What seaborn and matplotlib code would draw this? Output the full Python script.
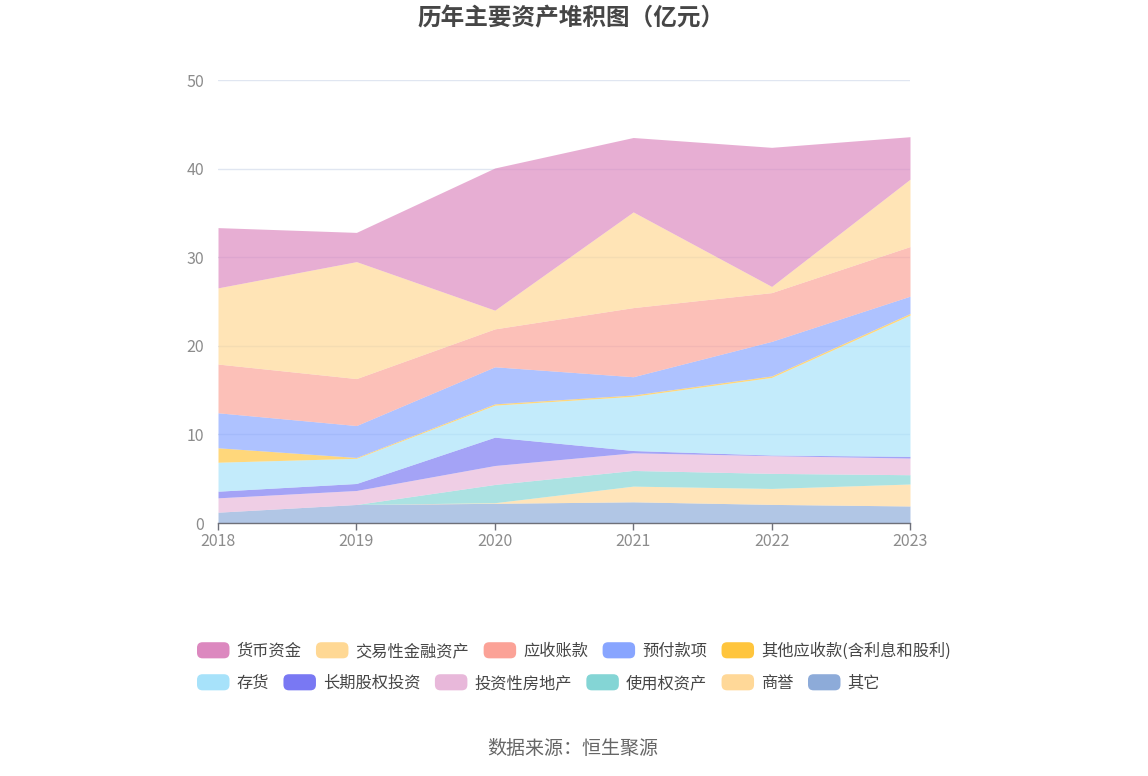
import numpy as np
import pandas as pd
import matplotlib
matplotlib.use("Agg")
import matplotlib.pyplot as plt
import seaborn as sns
from matplotlib.patches import Patch, FancyBboxPatch
from matplotlib.legend_handler import HandlerPatch

# 数据（亿元），从下往上堆叠
years = [2018, 2019, 2020, 2021, 2022, 2023]
qita = [1.22, 2.09, 2.22, 2.39, 2.10, 1.92]
shangyu = [0.00, 0.00, 0.07, 1.77, 1.80, 2.48]
shiyongquan = [0.00, 0.00, 2.06, 1.77, 1.70, 1.05]
touzifangdichan = [1.62, 1.58, 2.14, 1.99, 2.00, 1.88]
changqiguquan = [0.75, 0.79, 3.20, 0.26, 0.07, 0.19]
cunhuo = [3.27, 2.84, 3.61, 6.12, 8.76, 15.94]
qitayingshou = [1.63, 0.10, 0.15, 0.15, 0.17, 0.19]
yufu = [3.95, 3.60, 4.18, 2.06, 3.90, 1.95]
yingshou = [5.50, 5.30, 4.28, 7.80, 5.50, 5.60]
jiaoyixing = [8.60, 13.20, 2.11, 10.80, 0.70, 7.60]
huobi = [6.80, 3.30, 16.05, 8.40, 15.70, 4.80]

names = ["其它", "商誉", "使用权资产", "投资性房地产", "长期股权投资", "存货",
         "其他应收款(含利息和股利)", "预付款项", "应收账款", "交易性金融资产", "货币资金"]
series = [qita, shangyu, shiyongquan, touzifangdichan, changqiguquan, cunhuo,
          qitayingshou, yufu, yingshou, jiaoyixing, huobi]
colors = ["#8dabd9", "#ffd898", "#84d5d5", "#e8b8da", "#7978f3", "#a7e2fa",
          "#ffc53d", "#88a5ff", "#fba297", "#ffd894", "#dc88bf"]

df = pd.DataFrame(dict(zip(names, series)), index=years)

sns.set_theme(style="white")
plt.rcParams["font.family"] = ["Noto Sans CJK SC", "DejaVu Sans"]

fig = plt.figure(figsize=(11.48, 7.76), dpi=100)
ax = fig.add_axes([218 / 1148, 1 - 523 / 776, 692 / 1148, 443 / 776])

ax.stackplot(df.index, [df[n] for n in names], colors=colors, alpha=0.68,
             linewidth=0, zorder=2)

ax.set_xlim(2018, 2023)
ax.set_ylim(0, 50)
ax.set_xticks(years)
ax.set_yticks(range(0, 51, 10))
ax.yaxis.grid(True, color="#e0e6f1", linewidth=1, zorder=0)
ax.xaxis.grid(False)
for s in ["top", "right", "left"]:
    ax.spines[s].set_visible(False)
ax.spines["bottom"].set_color("#6e7079")
ax.spines["bottom"].set_linewidth(1)
ax.spines["bottom"].set_zorder(3)
ax.tick_params(axis="x", length=5, width=1, color="#6e7079", direction="out",
               labelsize=11.5, labelcolor="#8c8c8c", pad=2, bottom=True)
ax.tick_params(axis="y", length=0, labelsize=11.5, labelcolor="#8c8c8c", pad=10)


class RoundBox(HandlerPatch):
    def create_artists(self, legend, orig_handle, xdescent, ydescent, width,
                       height, fontsize, trans):
        p = FancyBboxPatch((-xdescent, -ydescent), width, height,
                           boxstyle="round,pad=0,rounding_size=4",
                           fc=orig_handle.get_facecolor(), ec="none",
                           transform=trans)
        return [p]


legend_order = names[::-1]
legend_colors = colors[::-1]
rows = [legend_order[:5], legend_order[5:]]
row_cols = [legend_colors[:5], legend_colors[5:]]
row_y = [651, 683]
for labels, cols, yy in zip(rows, row_cols, row_y):
    handles = [Patch(facecolor=c, label=l) for l, c in zip(labels, cols)]
    leg = fig.legend(handles=handles, loc="center left",
                     bbox_to_anchor=(197 / 1148, 1 - yy / 776),
                     ncol=len(handles), frameon=False, fontsize=11.7,
                     handlelength=2.0, handleheight=1.15, handletextpad=0.42,
                     columnspacing=0.9, borderpad=0, borderaxespad=0,
                     handler_map={Patch: RoundBox()})
    for t in leg.get_texts():
        t.set_color("#464646")

fig.text(0.497, 1 - 18 / 776, "历年主要资产堆积图（亿元）", ha="center", va="center",
         fontsize=17, fontweight="bold", color="#464646")
fig.text(0.499, 1 - 748 / 776, "数据来源：恒生聚源", ha="center", va="center",
         fontsize=13.7, color="#666666")

fig.savefig("out.png", dpi=100)
